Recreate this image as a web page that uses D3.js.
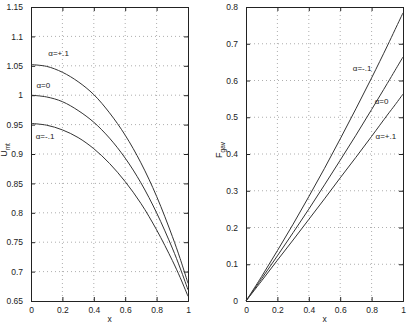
<!DOCTYPE html>
<html>
<head>
<meta charset="utf-8">
<script src="https://cdn.jsdelivr.net/npm/d3@7"></script>
<style>
body{margin:0;background:#fff;}
text{font-family:"Liberation Sans",Arial,sans-serif;fill:#222;}
</style>
</head>
<body>
<script>
//=======================================================================
// values
var xVals    = [0,0.1,0.2,0.3,0.4,0.5,0.6,0.7,0.8,0.9,0.95,1];

var uPlus    = [1.052,1.049,1.039,1.023,1.001,0.970,0.932,0.885,0.828,0.760,0.722,0.680];
var uZero    = [1.000,0.997,0.989,0.974,0.954,0.927,0.893,0.851,0.800,0.740,0.706,0.669];
var uMinus   = [0.952,0.949,0.941,0.928,0.909,0.884,0.853,0.816,0.771,0.719,0.690,0.658];

var fMinus   = [0,0.067,0.137,0.209,0.284,0.361,0.441,0.523,0.607,0.694,0.739,0.784];
var fZero    = [0,0.061,0.123,0.186,0.250,0.316,0.383,0.451,0.521,0.592,0.628,0.664];
var fPlus    = [0,0.055,0.111,0.166,0.222,0.278,0.335,0.391,0.448,0.506,0.534,0.563];

var xTicks   = [0,0.2,0.4,0.6,0.8,1];
var uTicks   = [0.65,0.7,0.75,0.8,0.85,0.9,0.95,1,1.05,1.1,1.15];
var fTicks   = [0,0.1,0.2,0.3,0.4,0.5,0.6,0.7,0.8];

var uLabels  = [{t:"\u03b1=+.1", x:0.11, y:1.066},{t:"\u03b1=0", x:0.035, y:1.013},{t:"\u03b1=-.1", x:0.03, y:0.925}];
var fLabels  = [{t:"\u03b1=-.1", x:0.68, y:0.625},{t:"\u03b1=0", x:0.82, y:0.535},{t:"\u03b1=+.1", x:0.825, y:0.44}];

var svg = d3.select("body").append("svg")
			.attr("width",409)
			.attr("height",324);
svg.append("rect").attr("width",409).attr("height",324).attr("fill","#fff");

//----------------------------------------------------------------------
function f_Panel(arg_left, arg_yDomain, arg_yTicks, arg_series, arg_labels, arg_yName, arg_sub)
{
	var x = d3.scaleLinear().domain([0,1]).range([arg_left, arg_left+157]);
	var y = d3.scaleLinear().domain(arg_yDomain).range([301,7]);
	var g = svg.append("g");

	// dotted grid
	g.selectAll("line.gx").data(xTicks.slice(1,-1)).enter().append("line")
		.attr("x1",function(d){return x(d);}).attr("x2",function(d){return x(d);})
		.attr("y1",7).attr("y2",301)
		.attr("stroke","#999").attr("stroke-width",0.8).attr("stroke-dasharray","1,3");
	g.selectAll("line.gy").data(arg_yTicks.slice(1,-1)).enter().append("line")
		.attr("y1",function(d){return y(d);}).attr("y2",function(d){return y(d);})
		.attr("x1",x(0)).attr("x2",x(1))
		.attr("stroke","#999").attr("stroke-width",0.8).attr("stroke-dasharray","1,3");

	// axes, ticks inside, mirrored on top/right
	var fmt = function(d){return d3.format("")(+d.toFixed(2));};
	g.append("g").attr("transform","translate(0,301)")
		.call(d3.axisBottom(x).tickValues(xTicks).tickSize(-4).tickPadding(6).tickFormat(fmt));
	g.append("g").attr("transform","translate(0,7)")
		.call(d3.axisTop(x).tickValues(xTicks).tickSize(-4).tickFormat(""));
	g.append("g").attr("transform","translate("+x(0)+",0)")
		.call(d3.axisLeft(y).tickValues(arg_yTicks).tickSize(-4).tickPadding(8).tickFormat(fmt));
	g.append("g").attr("transform","translate("+x(1)+",0)")
		.call(d3.axisRight(y).tickValues(arg_yTicks).tickSize(-4).tickFormat(""));
	g.selectAll(".domain").attr("stroke","#222");
	g.selectAll(".tick line").attr("stroke","#222");
	g.selectAll(".tick text").attr("font-size","8.5px").attr("fill","#222")
		.attr("font-family","Liberation Sans, Arial, sans-serif");

	// curves
	var line = d3.line()
				.x(function(d,i){return x(xVals[i]);})
				.y(function(d){return y(d);})
				.curve(d3.curveCatmullRom);
	arg_series.forEach(function(s){
		g.append("path").attr("d",line(s))
			.attr("fill","none").attr("stroke","#333").attr("stroke-width",1);
	});

	// curve labels
	g.selectAll("text.lab").data(arg_labels).enter().append("text")
		.attr("x",function(d){return x(d.x);})
		.attr("y",function(d){return y(d.y);})
		.attr("font-size","8px")
		.text(function(d){return d.t;});

	// axis names
	g.append("text").attr("x",x(0.5)).attr("y",322)
		.attr("text-anchor","middle").attr("font-size","8.5px").text("x");
	var yl = g.append("text")
		.attr("transform","translate("+(arg_left-24)+",150) rotate(-90)")
		.attr("text-anchor","middle").attr("font-size","9px");
	yl.append("tspan").text(arg_yName);
	yl.append("tspan").attr("dy",2.5).attr("font-size","6.5px").text(arg_sub);
}
//----------------------------------------------------------------------
f_Panel(31,  [0.65,1.15], uTicks, [uPlus,uZero,uMinus], uLabels, "U", "mt");
f_Panel(246, [0,0.8],     fTicks, [fMinus,fZero,fPlus], fLabels, "F", "gav");
//======================================================================
</script>
</body>
</html>
